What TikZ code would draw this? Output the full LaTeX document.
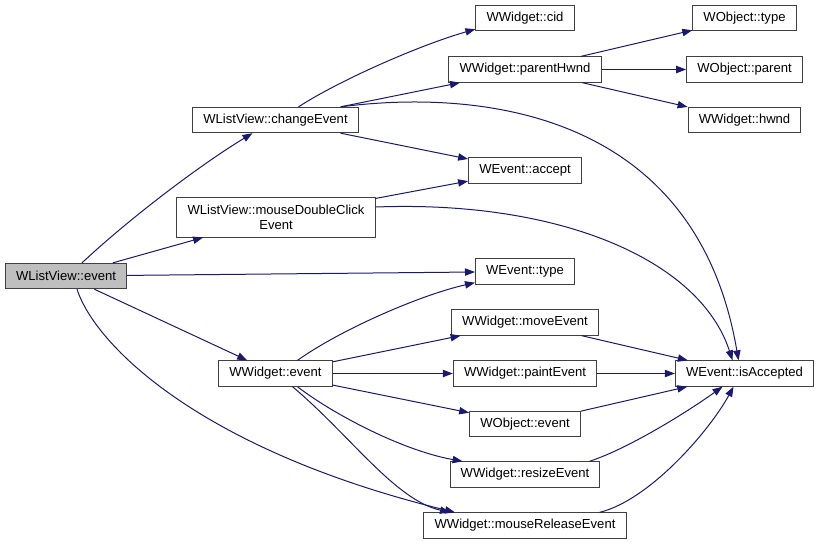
\documentclass[tikz,border=0pt]{standalone}
\usepackage{fontspec}
\setmainfont{Liberation Sans}
\usepackage{tikz}
\usetikzlibrary{arrows.meta,calc}
\definecolor{edgeblue}{HTML}{191970}
\definecolor{callergray}{HTML}{BFBFBF}

\begin{document}
\begin{tikzpicture}[x=0.75pt, y=-0.75pt,
    fn/.style={draw=black!75, line width=0.75pt, fill=white, align=center, font=\fontsize{9.8}{11.3}\selectfont, inner xsep=8pt, inner ysep=2pt, minimum height=19pt},
    call/.style={-{Triangle[length=7.5pt,width=5.5pt]}, draw=edgeblue, line width=0.75pt}]
  \useasboundingbox (0,0) rectangle (820,544);
  % caller
  \node[fn, fill=callergray] (ev) at (66,276) {WListView::event};
  % first level
  \node[fn] (chg) at (275.5,120) {WListView::changeEvent};
  \node[fn, minimum height=30pt] (mdc) at (276,217) {WListView::mouseDoubleClick\\Event};
  \node[fn] (wev) at (275.5,373.5) {WWidget::event};
  % second level
  \node[fn] (cid) at (525,18) {WWidget::cid};
  \node[fn] (phw) at (525,69.5) {WWidget::parentHwnd};
  \node[fn] (acc) at (525,170.5) {WEvent::accept};
  \node[fn] (etype) at (525,271.5) {WEvent::type};
  \node[fn] (move) at (525,322.5) {WWidget::moveEvent};
  \node[fn] (paint) at (525,373.5) {WWidget::paintEvent};
  \node[fn] (oev) at (525,424) {WObject::event};
  \node[fn] (resize) at (525,474.5) {WWidget::resizeEvent};
  \node[fn] (mrel) at (525,525.5) {WWidget::mouseReleaseEvent};
  % third level
  \node[fn] (otype) at (744.5,18) {WObject::type};
  \node[fn] (opar) at (744.5,69.5) {WObject::parent};
  \node[fn] (hwnd) at (744.5,120) {WWidget::hwnd};
  \node[fn] (isacc) at (744.5,373.5) {WEvent::isAccepted};
  % calls from WListView::event
  \draw[call] ($(ev.north)+(16,0)$) .. controls (130,218) and (200,165) .. ($(chg.south)+(-23,0)$);
  \draw[call] (ev) -- (mdc);
  \draw[call] (ev) -- (etype);
  \draw[call] (ev) -- (wev);
  \draw[call] ($(ev.south)+(11,0)$) .. controls (95,345) and (200,450) .. ($(mrel.north)+(-70,0)$);
  % calls from WListView::changeEvent
  \draw[call] ($(chg.north)+(23,0)$) .. controls (340,80) and (420,45) .. ($(cid.south west)+(0,-2)$);
  \draw[call] (chg) -- (phw);
  \draw[call] (chg) -- (acc);
  \draw[call] ($(chg.north east)+(-18,0)$) .. controls (470,90) and (695,105) .. ($(isacc.north)+(-6,0)$);
  \draw[call] (phw) -- (otype);
  \draw[call] (phw) -- (opar);
  \draw[call] (phw) -- (hwnd);
  % calls from WListView::mouseDoubleClickEvent
  \draw[call] (mdc) -- (acc);
  \draw[call] ($(mdc.east)+(0,-10)$) .. controls (560,200) and (700,260) .. ($(isacc.north)+(-12,0)$);
  % calls from WWidget::event
  \draw[call] ($(wev.north)+(22,0)$) .. controls (340,330) and (420,295) .. ($(etype.south west)+(0,-2)$);
  \draw[call] (wev) -- (move);
  \draw[call] (wev) -- (paint);
  \draw[call] (wev) -- (oev);
  \draw[call] ($(wev.south)+(22,0)$) .. controls (330,412) and (400,450) .. ($(resize.north west)+(13,0)$);
  \draw[call] ($(wev.south)+(17,0)$) .. controls (350,435) and (395,500) .. ($(mrel.north)+(-75,0)$);
  % into WEvent::isAccepted
  \draw[call] (move) -- (isacc);
  \draw[call] (paint) -- (isacc);
  \draw[call] (oev) -- (isacc);
  \draw[call] ($(resize.north east)+(-11,0)$) .. controls (630,448) and (690,410) .. ($(isacc.south)+(-22,0)$);
  \draw[call] ($(mrel.north east)+(-27,0)$) .. controls (650,500) and (710,430) .. ($(isacc.south)+(-11,0)$);
\end{tikzpicture}
\end{document}
